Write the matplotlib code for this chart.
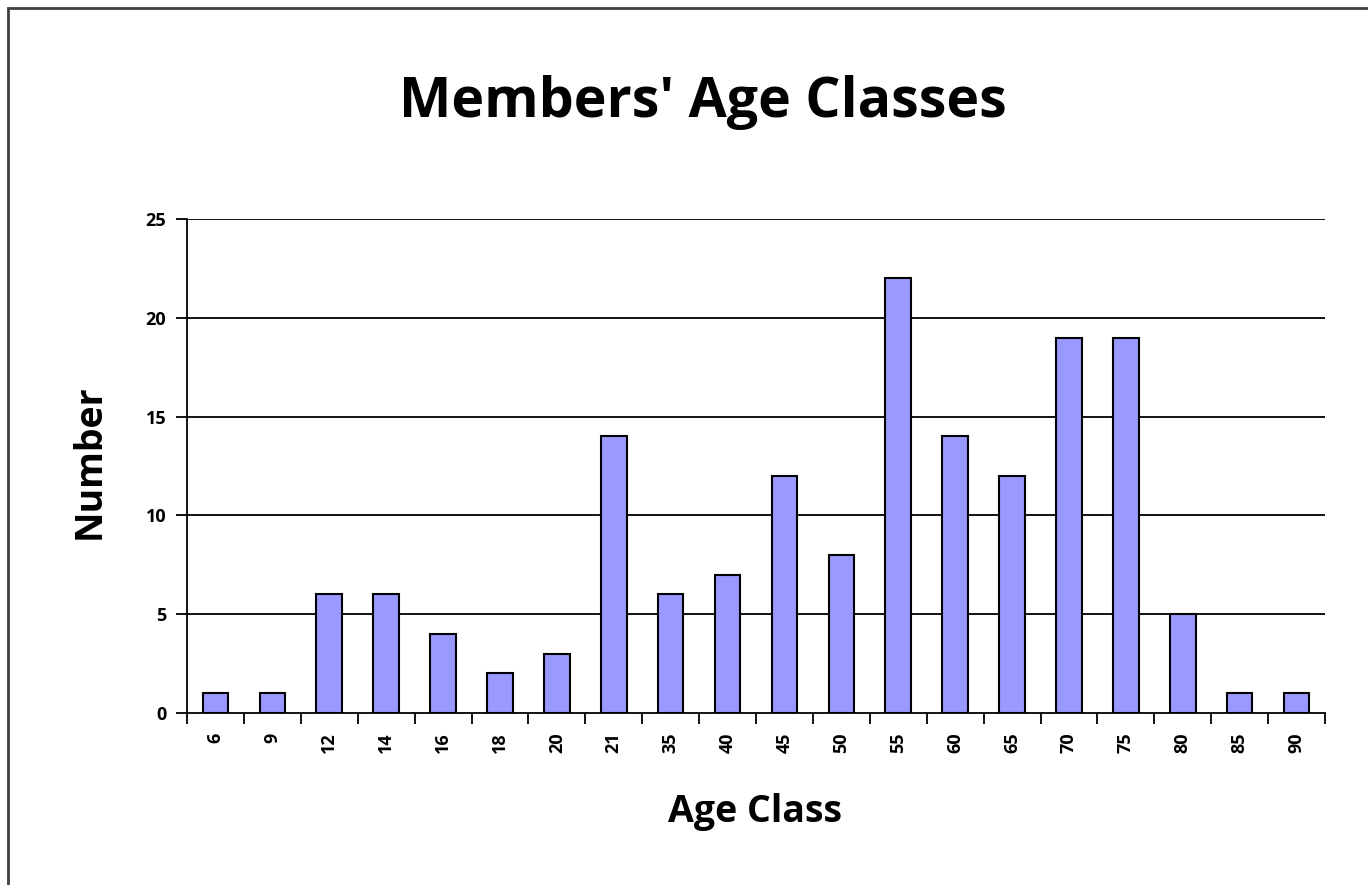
import matplotlib
matplotlib.use("Agg")
import matplotlib.pyplot as plt
from matplotlib.patches import Rectangle

age_classes = ["6", "9", "12", "14", "16", "18", "20", "21", "35", "40",
               "45", "50", "55", "60", "65", "70", "75", "80", "85", "90"]
counts = [1, 1, 6, 6, 4, 2, 3, 14, 6, 7, 12, 8, 22, 14, 12, 19, 19, 5, 1, 1]
y_ticks = [0, 5, 10, 15, 20, 25]

plt.rcParams['font.family'] = ['Open Sans', 'DejaVu Sans']

W, H = 1368, 885
fig = plt.figure(figsize=(W / 100, H / 100), dpi=100)
fig.patch.set_facecolor("white")

# outer chart border
fig.add_artist(Rectangle((8 / W, -0.01), 1.02, 1 - 8 / H + 0.01, transform=fig.transFigure,
                         fill=False, edgecolor="#404040", linewidth=2))

left, right, top, bottom = 187, 1325, 219, 713
ax = fig.add_axes([left / W, 1 - bottom / H, (right - left) / W, (bottom - top) / H])

x = list(range(len(age_classes)))
ax.bar(x, counts, width=0.45, color="#9999FF", edgecolor="black", linewidth=1.5, zorder=3)

ax.set_xlim(-0.5, len(age_classes) - 0.5)
ax.set_ylim(0, 25)
ax.set_yticks(y_ticks)
ax.set_yticklabels([str(v) for v in y_ticks], fontsize=13, fontweight="bold")
for v in y_ticks[1:]:
    ax.axhline(v, color="black", linewidth=1.3, zorder=1)

ax.set_xticks(x)
ax.set_xticklabels(age_classes, rotation=90, fontsize=13, fontweight="bold")
ax.tick_params(axis="x", length=0, pad=14)
ax.set_xticks([i - 0.5 for i in range(len(age_classes) + 1)], minor=True)
ax.tick_params(axis="x", which="minor", length=8, width=1.3, direction="out")
ax.tick_params(axis="y", length=8, width=1.3, direction="out", pad=7)

for s in ["top", "right"]:
    ax.spines[s].set_visible(False)
ax.spines["left"].set_linewidth(1.3)
ax.spines["bottom"].set_linewidth(1.3)

fig.text(755 / W, 1 - 812 / H, "Age Class", ha="center", va="center",
         fontsize=27, fontweight="bold")
fig.text(90 / W, 1 - 462 / H, "Number", ha="center", va="center", rotation=90,
         fontsize=27, fontweight="bold")

fig.text(703 / W, 1 - 102 / H, "Members' Age Classes", ha="center", va="center",
         fontsize=40, fontweight="bold")

fig.savefig("out.png", dpi=100)
